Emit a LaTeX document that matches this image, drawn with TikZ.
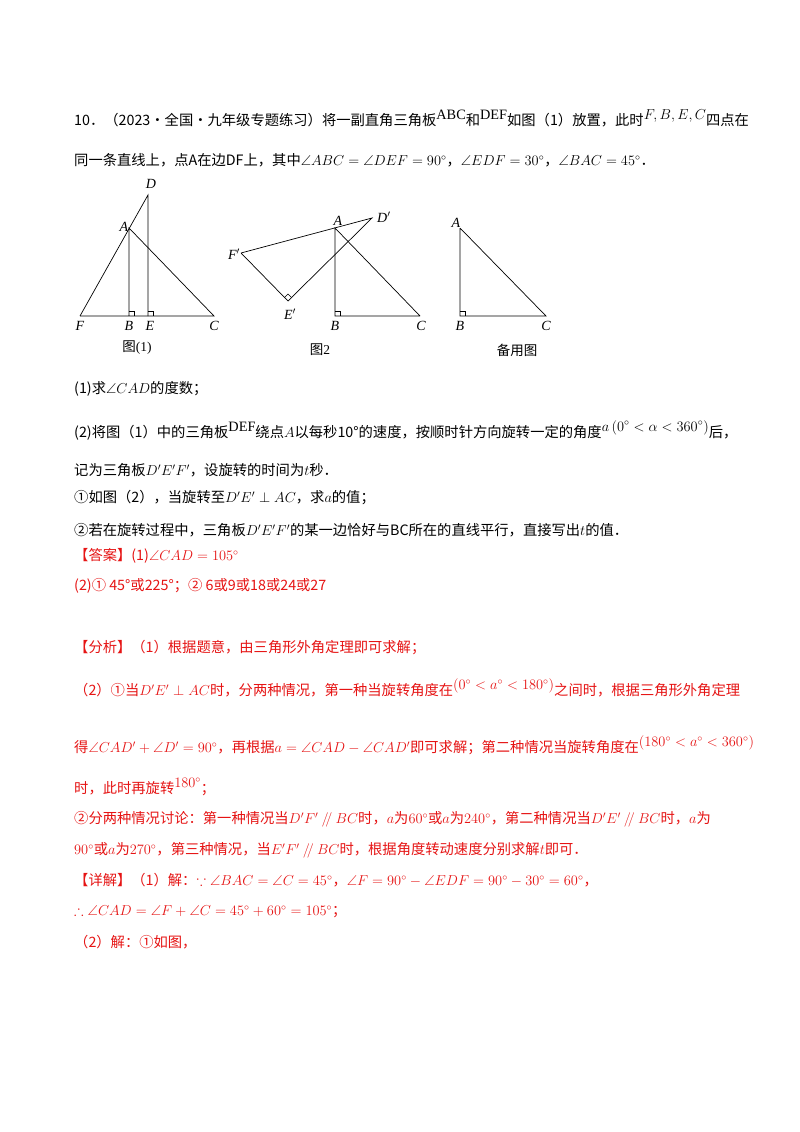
\documentclass[tikz,border=0pt]{standalone}
\usepackage{amssymb}
\usepackage{fontspec}
\setmainfont{Noto Sans CJK SC}
\newfontfamily\lat{Liberation Serif}
\definecolor{ans}{RGB}{230,20,20}
\newcommand{\rz}[1]{\raisebox{6pt}{#1}}
\begin{document}
\begin{tikzpicture}[x=1pt,y=-1pt,
  txt/.style={anchor=west,inner sep=0pt,font=\fontsize{14.3}{16}\selectfont},
  rtxt/.style={txt,text=ans},
  lbl/.style={inner sep=1pt,font=\fontsize{14}{16}\selectfont\lat\itshape},
  figcap/.style={inner sep=0pt,font=\fontsize{13.5}{16}\selectfont},
  seg/.style={line width=0.7pt}]
\fill[white] (0,0) rectangle (800,1132);
\useasboundingbox (0,0) rectangle (800,1132);
% text
\node[txt] (t1) at (74,118) {10．（2023·全国·九年级专题练习）将一副直角三角板\rz{\lat ABC}和\rz{\lat DEF}如图（1）放置，此时\rz{$F,B,E,C$}四点在};
\node[txt] (t2) at (74,160) {同一条直线上，点A在边DF上，其中$\angle ABC=\angle DEF=90^\circ$，$\angle EDF=30^\circ$，$\angle BAC=45^\circ$．};
\node[txt] (t3) at (74,389) {(1)求$\angle CAD$的度数；};
\node[txt] (t4) at (74,430) {(2)将图（1）中的三角板\rz{\lat DEF}绕点$A$以每秒10°的速度，按顺时针方向旋转一定的角度\rz{$a\left(0^\circ<\alpha<360^\circ\right)$}后，};
\node[txt] (t5) at (74,470) {记为三角板$D'E'F'$，设旋转的时间为$t$秒．};
\node[txt] (t6) at (74,498) {①如图（2），当旋转至$D'E'\perp AC$，求$a$的值；};
\node[txt] (t7) at (74,530) {②若在旋转过程中，三角板$D'E'F'$的某一边恰好与BC所在的直线平行，直接写出$t$的值．};
\node[rtxt] (t8) at (74,556) {【答案】(1)$\angle CAD=105^\circ$};
\node[rtxt] (t9) at (74,586) {(2)① 45°或225°；② 6或9或18或24或27};
\node[rtxt] (t10) at (74,648) {【分析】（1）根据题意，由三角形外角定理即可求解；};
\node[rtxt] (t11) at (74,688) {（2）①当$D'E'\perp AC$时，分两种情况，第一种当旋转角度在\rz{$\left(0^\circ<a^\circ<180^\circ\right)$}之间时，根据三角形外角定理};
\node[rtxt] (t12) at (74,745) {得$\angle CAD'+\angle D'=90^\circ$，再根据$a=\angle CAD-\angle CAD'$即可求解；第二种情况当旋转角度在\rz{$\left(180^\circ<a^\circ<360^\circ\right)$}};
\node[rtxt] (t13) at (74,787) {时，此时再旋转\rz{$180^\circ$}；};
\node[rtxt] (t14) at (74,819) {②分两种情况讨论：第一种情况当$D'F'\mathbin{/\mkern-4mu/}BC$时，$a$为$60^\circ$或$a$为$240^\circ$，第二种情况当$D'E'\mathbin{/\mkern-4mu/}BC$时，$a$为};
\node[rtxt] (t15) at (74,850) {$90^\circ$或$a$为$270^\circ$，第三种情况，当$E'F'\mathbin{/\mkern-4mu/}BC$时，根据角度转动速度分别求解$t$即可．};
\node[rtxt] (t16) at (74,880) {【详解】（1）解：$\because\angle BAC=\angle C=45^\circ$，$\angle F=90^\circ-\angle EDF=90^\circ-30^\circ=60^\circ$，};
\node[rtxt] (t17) at (74,912) {$\therefore\angle CAD=\angle F+\angle C=45^\circ+60^\circ=105^\circ$；};
\node[rtxt] (t18) at (74,942) {（2）解：①如图，};
% figure 1
\coordinate (F) at (80,316); \coordinate (B) at (129,316); \coordinate (E) at (148,316);
\coordinate (C) at (214,316); \coordinate (D) at (148,195); \coordinate (A) at (129,228);
\draw[seg] (F) -- (C) -- (A) -- (B); \draw[seg] (F) -- (D) -- (E);
\draw[line width=0.5pt] (129,311) -- (134,311) -- (134,316) (148,311) -- (153,311) -- (153,316);
\node[lbl] at (80,326) {F}; \node[lbl] at (129,326) {B}; \node[lbl] at (150,326) {E};
\node[lbl] at (214,326) {C}; \node[lbl] at (151,184) {D}; \node[lbl] at (124,227) {A};
\node[figcap] at (137,348) {图\lat(1)};
% figure 2
\coordinate (F2) at (241,253); \coordinate (E2) at (288,301); \coordinate (D2) at (372,218);
\coordinate (A2) at (335,228); \coordinate (B2) at (335,316); \coordinate (C2) at (420,316);
\draw[seg] (F2) -- (E2) -- (D2) -- (F2); \draw[seg] (C2) -- (A2) -- (B2) -- (C2);
\draw[line width=0.5pt] (284.5,297.5) -- (288,294) -- (291.5,297.5);
\draw[line width=0.5pt] (335,311) -- (340,311) -- (340,316);
\node[lbl] at (241,254) [left] {F$'$}; \node[lbl] at (290,314) {E$'$}; \node[lbl] at (377,217) [right,inner sep=0pt] {D$'$};
\node[lbl] at (338,221) {A}; \node[lbl] at (335,326) {B}; \node[lbl] at (421,326) {C};
\node[figcap] at (320,350) {图\lat 2};
% figure 3
\coordinate (A3) at (460,228); \coordinate (B3) at (460,316); \coordinate (C3) at (546,316);
\draw[seg] (A3) -- (B3) -- (C3) -- (A3);
\draw[line width=0.5pt] (460,311) -- (465,311) -- (465,316);
\node[lbl] at (456,223) {A}; \node[lbl] at (460,326) {B}; \node[lbl] at (546,326) {C};
\node[figcap] at (517,350) {备用图};
\end{tikzpicture}
\end{document}
